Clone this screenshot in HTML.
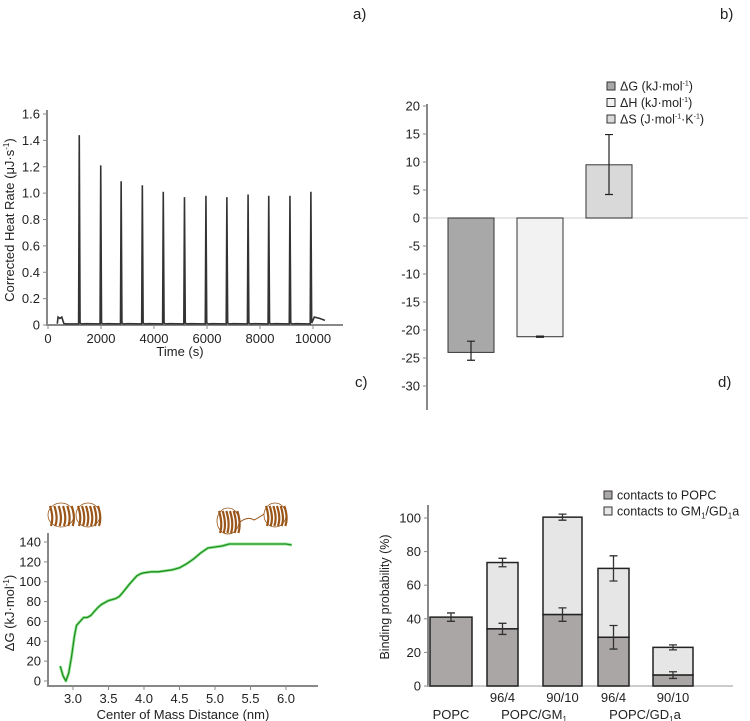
<!DOCTYPE html>
<html><head><meta charset="utf-8">
<style>
body{margin:0;background:#fff;}
svg{display:block;font-family:"Liberation Sans",Arial,sans-serif;}
</style></head>
<body>
<svg id="fig" width="750" height="721" viewBox="0 0 750 721">
<text x="353" y="19" font-size="15" fill="#222">a)</text>
<text x="720" y="19" font-size="15" fill="#222">b)</text>
<text x="355" y="387" font-size="15" fill="#222">c)</text>
<text x="718" y="387" font-size="15" fill="#222">d)</text>
<g id="pa"></g>
<g id="pb"></g>
<g id="pc"></g>
<g id="pd"></g>
</svg>
<script>
// ---- Panel a data
const peakTimes = [1180,1990,2760,3560,4350,5150,5960,6750,7550,8330,9130,9920];
const peakHeights = [1.44,1.21,1.09,1.06,1.01,0.97,0.98,0.97,0.99,0.98,0.98,1.01];
const aYTicks = [0,0.2,0.4,0.6,0.8,1.0,1.2,1.4,1.6];
const aYTickLabels = ["0","0.2","0.4","0.6","0.8","1.0","1.2","1.4","1.6"];
const aXTicks = [0,2000,4000,6000,8000,10000];
// ---- Panel b data
const bCategories = ["ΔG","ΔH","ΔS"];
const bValues = [-24.0,-21.2,9.5];
const bErrLow = [-25.4,-21.3,4.2];
const bErrHigh = [-22.0,-21.1,14.9];
const bYTicks = [20,15,10,5,0,-5,-10,-15,-20,-25,-30];
// ---- Panel c data
const cX = [2.82,2.86,2.9,2.94,2.98,3.02,3.05,3.1,3.15,3.2,3.25,3.3,3.35,3.4,3.5,3.6,3.65,3.7,3.8,3.9,3.95,4.0,4.1,4.2,4.3,4.4,4.5,4.6,4.7,4.8,4.9,5.0,5.1,5.2,5.3,5.5,5.7,5.9,6.0,6.08];
const cY = [15,5,0,8,25,45,56,60,64,64,66,70,74,77,81,83,85,89,98,106,108,109,110,110,111,112,114,118,123,129,134,135,136,138,138,138,138,138,138,137];
const cXTicks = [3.0,3.5,4.0,4.5,5.0,5.5,6.0];
const cYTicks = [0,20,40,60,80,100,120,140];
// ---- Panel d data
const dCategories = ["POPC","GM1 96/4","GM1 90/10","GD1a 96/4","GD1a 90/10"];
const dPopc = [41,34,42.5,29,6.5];
const dPopcErr = [2.5,3.3,4,7,2];
const dTotal = [41,73.5,100.5,70,23];
const dTotalErr = [0,2.5,1.8,7.5,1.5];
const dYTicks = [0,20,40,60,80,100];

const NS="http://www.w3.org/2000/svg";
function mk(parent,tag,attrs,text){const e=document.createElementNS(NS,tag);for(const k in attrs)e.setAttribute(k,attrs[k]);if(text!==undefined)e.textContent=text;parent.appendChild(e);return e;}

// ===== Panel a
(function(){
const g=document.getElementById('pa');
const xs=t=>48+t*(313-48)/10000, ys=v=>325-v*(325-114)/1.6;
mk(g,'line',{x1:47,y1:110,x2:47,y2:326,stroke:'#888','stroke-width':2});
mk(g,'line',{x1:46,y1:325,x2:343,y2:325,stroke:'#888','stroke-width':2});
aYTicks.forEach((v,i)=>{const y=ys(v);
 const t=mk(g,'line',{x1:43,y1:y,x2:47,y2:y,stroke:'#888'});
 
 const l=mk(g,'text',{x:40,y:y+4.5,'font-size':13,'text-anchor':'end',fill:'#222'},aYTickLabels[i]);
 });
aXTicks.forEach(v=>{const x=xs(v);
 mk(g,'line',{x1:x,y1:325,x2:x,y2:329,stroke:'#888'});
 const l=mk(g,'text',{x:x,y:343,'font-size':13,'text-anchor':'middle',fill:'#222'},String(v));
 });
let xt=mk(g,'text',{x:180,y:356,'font-size':13,'text-anchor':'middle',fill:'#222'},'Time (s)');

let yt=mk(g,'text',{x:0,y:0,'font-size':13,'text-anchor':'middle',fill:'#222',transform:'translate(14,220) rotate(-90)'});
yt.innerHTML='Corrected Heat Rate (μJ·s<tspan dy="-5" font-size="8">-1</tspan><tspan dy="5">)</tspan>';

let d='M'+xs(350)+','+ys(0.01);
d+=' L'+xs(380)+','+ys(0.06)+' L'+xs(450)+','+ys(0.05)+' L'+xs(520)+','+ys(0.06)+' L'+xs(600)+','+ys(0.01)+' L'+xs(700)+','+ys(0.008);
peakTimes.forEach((t,i)=>{
 d+=' L'+xs(t-25)+','+ys(0.008)+' L'+xs(t)+','+ys(peakHeights[i])+' L'+xs(t+30)+','+ys(0.015);
 if(i<peakTimes.length-1) d+=' L'+xs(t+90)+','+ys(0.008)+' L'+xs(t+250)+','+ys(0.01);
});
d+=' L'+xs(10050)+','+ys(0.06)+' L'+xs(10250)+','+ys(0.05)+' L'+xs(10450)+','+ys(0.035);
const p=mk(g,'path',{d:d,fill:'none',stroke:'#333','stroke-width':1.6});

})();

// ===== Panel b
(function(){
const g=document.getElementById('pb');
const ys=v=>218-v*(218-106)/20;
const bx=[448,517,586], bw=46, fills=['#a8a8a8','#f2f2f2','#d9d9d9'];
mk(g,'line',{x1:428,y1:ys(0),x2:748,y2:ys(0),stroke:'#ddd','stroke-width':1.5});
mk(g,'line',{x1:427,y1:104,x2:427,y2:410,stroke:'#888','stroke-width':2});
bYTicks.forEach(v=>{const y=ys(v);
 mk(g,'line',{x1:423,y1:y,x2:427,y2:y,stroke:'#888'});
 const l=mk(g,'text',{x:420,y:y+4.5,'font-size':13,'text-anchor':'end',fill:'#222'},String(v));
 });
bValues.forEach((v,i)=>{
 const y0=Math.min(ys(0),ys(v)),h=Math.abs(ys(v)-ys(0));
 const r=mk(g,'rect',{x:bx[i],y:y0,width:bw,height:h,fill:fills[i],stroke:'#333','stroke-width':1});
 
 const cx=bx[i]+bw/2;
 mk(g,'path',{d:`M${cx},${ys(bErrLow[i])}V${ys(bErrHigh[i])}M${cx-4},${ys(bErrLow[i])}h8M${cx-4},${ys(bErrHigh[i])}h8`,stroke:'#222','stroke-width':1.2,fill:'none'});
});
const leg=[['ΔG (kJ·mol','-1',')',''],['ΔH (kJ·mol','-1',')',''],['ΔS (J·mol','-1','·K','-1']];
leg.forEach((L,i)=>{const y=86+i*16.5;
 const s=mk(g,'rect',{x:607,y:y-4,width:8,height:8,fill:fills[i],stroke:'#333','stroke-width':1});
 
 const t=mk(g,'text',{x:620,y:y+4.5,'font-size':12.5,fill:'#222'});
 t.innerHTML=L[0]+'<tspan dy="-5" font-size="7">'+L[1]+'</tspan><tspan dy="5">'+L[2]+'</tspan>'+(L[3]?'<tspan dy="-5" font-size="7">-1</tspan><tspan dy="5">)</tspan>':'');
 });
})();

// ===== Panel c
(function(){
const g=document.getElementById('pc');
const xs=v=>73+(v-3)*(286-73)/3, ys=v=>681-v*(681-542)/140;
mk(g,'line',{x1:48,y1:533,x2:48,y2:687,stroke:'#888','stroke-width':2});
mk(g,'line',{x1:47,y1:686,x2:318,y2:686,stroke:'#888','stroke-width':2});
cYTicks.forEach(v=>{const y=ys(v);
 mk(g,'line',{x1:44,y1:y,x2:48,y2:y,stroke:'#888'});
 const l=mk(g,'text',{x:41,y:y+4.5,'font-size':13,'text-anchor':'end',fill:'#222'},String(v));
 });
cXTicks.forEach(v=>{const x=xs(v);
 mk(g,'line',{x1:x,y1:686,x2:x,y2:690,stroke:'#888'});
 const l=mk(g,'text',{x:x,y:703,'font-size':13,'text-anchor':'middle',fill:'#222'},v.toFixed(1));
 });
let xt=mk(g,'text',{x:183,y:719,'font-size':13,'text-anchor':'middle',fill:'#222'},'Center of Mass Distance (nm)');

let yt=mk(g,'text',{x:0,y:0,'font-size':13,'text-anchor':'middle',fill:'#222',transform:'translate(14,613) rotate(-90)'});
yt.innerHTML='ΔG (kJ·mol<tspan dy="-5" font-size="8">-1</tspan><tspan dy="5">)</tspan>';

const d=cX.map((x,i)=>(i?'L':'M')+xs(x).toFixed(1)+','+ys(cY[i]).toFixed(1)).join(' ');
mk(g,'path',{d:d,fill:'none',stroke:'#9ae69a','stroke-width':3,'stroke-linejoin':'round'});
const p=mk(g,'path',{d:d,fill:'none',stroke:'#1f8f1f','stroke-width':1.3,'stroke-linejoin':'round'});

function protein(cx,cy,w,h,name){
 const pg=mk(g,'g',{stroke:'#9a5518',fill:'none','stroke-width':2.2});
 
 for(let k=0;k<6;k++){const x=cx-w/2+k*w/6+2;
  mk(pg,'path',{d:`M${x},${cy-h/2+3} q4,${h/2} 1,${h-4}`});}
 mk(pg,'ellipse',{cx:cx,cy:cy,rx:w/2,ry:h/2,'stroke-width':0.8});
}
protein(61,515,26,24,'protein-dimer-left-a');
protein(88,515,24,24,'protein-dimer-left-b');
protein(228,521,22,26,'protein-separated-a');
protein(275,515,22,24,'protein-separated-b');
mk(g,'path',{d:'M240,522 q8,-6 14,-2 q6,-3 10,-6',stroke:'#9a5518',fill:'none','stroke-width':1});
})();

// ===== Panel d
(function(){
const g=document.getElementById('pd');
const ys=v=>686-v*(686-518)/100;
const bx=[430,487,543,598,653], bw=[42,31,39,31,40];
mk(g,'line',{x1:428,y1:505,x2:428,y2:687,stroke:'#888','stroke-width':2});
mk(g,'line',{x1:427,y1:686,x2:733,y2:686,stroke:'#bbb','stroke-width':1.5});
dYTicks.forEach(v=>{const y=ys(v);
 mk(g,'line',{x1:424,y1:y,x2:428,y2:y,stroke:'#888'});
 const l=mk(g,'text',{x:421,y:y+4.5,'font-size':13,'text-anchor':'end',fill:'#222'},String(v));
 });
let yt=mk(g,'text',{x:0,y:0,'font-size':12.5,'text-anchor':'middle',fill:'#222',transform:'translate(389,597) rotate(-90)'},'Binding probability (%)');

function eb(cx,v,e){if(!e)return;mk(g,'path',{d:`M${cx},${ys(v-e)}V${ys(v+e)}M${cx-4},${ys(v-e)}h8M${cx-4},${ys(v+e)}h8`,stroke:'#333','stroke-width':1.3,fill:'none'});}
dCategories.forEach((c,i)=>{
 if(dTotal[i]>dPopc[i]){const r=mk(g,'rect',{x:bx[i],y:ys(dTotal[i]),width:bw[i],height:ys(dPopc[i])-ys(dTotal[i]),fill:'#e6e6e6',stroke:'#222','stroke-width':1.5});
  }
 const r=mk(g,'rect',{x:bx[i],y:ys(dPopc[i]),width:bw[i],height:ys(0)-ys(dPopc[i]),fill:'#aaa6a6',stroke:'#222','stroke-width':1.5});
 
 const cx=bx[i]+bw[i]/2;eb(cx,dPopc[i],dPopcErr[i]);if(dTotal[i]>dPopc[i])eb(cx,dTotal[i],dTotalErr[i]);
});
const sub=['96/4','90/10','96/4','90/10'];
sub.forEach((s,i)=>{const cx=bx[i+1]+bw[i+1]/2;
 const l=mk(g,'text',{x:cx,y:702,'font-size':13,'text-anchor':'middle',fill:'#222'},s);
 });
let l1=mk(g,'text',{x:451,y:719,'font-size':13,'text-anchor':'middle',fill:'#222'},'POPC');

let l2=mk(g,'text',{x:534,y:719,'font-size':13,'text-anchor':'middle',fill:'#222'});
l2.innerHTML='POPC/GM<tspan dy="3" font-size="8">1</tspan>';

let l3=mk(g,'text',{x:645,y:719,'font-size':13,'text-anchor':'middle',fill:'#222'});
l3.innerHTML='POPC/GD<tspan dy="3" font-size="8">1</tspan><tspan dy="-3">a</tspan>';

const lf=['#aaa6a6','#e6e6e6'];
[['contacts to POPC'],['contacts to GM','1','/GD','1','a']].forEach((L,i)=>{const y=495+i*16;
 const s=mk(g,'rect',{x:604,y:y-4,width:8,height:8,fill:lf[i],stroke:'#333','stroke-width':1});
 
 const t=mk(g,'text',{x:617,y:y+4.5,'font-size':12.5,fill:'#222'});
 t.innerHTML=L.length>1?L[0]+'<tspan dy="3" font-size="8">1</tspan><tspan dy="-3">/GD</tspan><tspan dy="3" font-size="8">1</tspan><tspan dy="-3">a</tspan>':L[0];
 });
})();
</script>
</body></html>
